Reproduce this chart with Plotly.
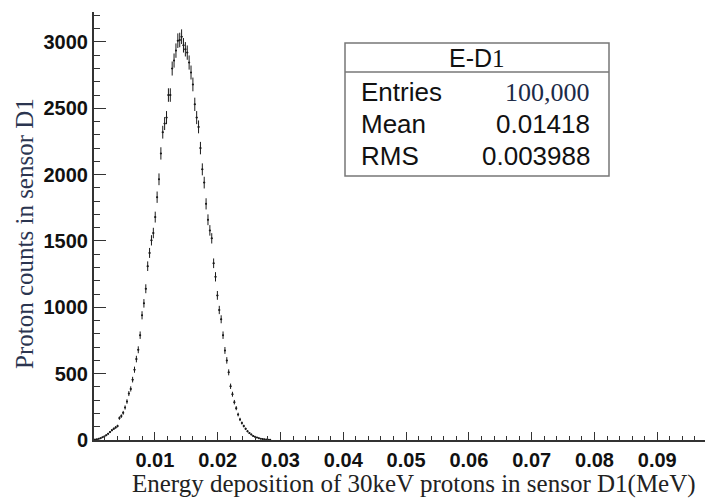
import numpy as np
import plotly.graph_objects as go

# ---- data ----
bin_width = 0.0003
hist_start = 0.0
counts = [2, 3, 5, 9, 14, 20, 27, 36, 47, 60,
          74, 85, 95, 105, 165, 180, 205, 245, 290, 350,
          385, 455, 530, 610, 680, 790, 940, 1030, 1140, 1310,
          1410, 1505, 1560, 1680, 1830, 1965, 2160, 2320, 2385, 2430,
          2600, 2600, 2800, 2860, 2935, 3010, 3015, 3040, 2975, 2945,
          2920, 2845, 2770, 2680, 2530, 2430, 2360, 2200, 2040, 1940,
          1780, 1660, 1580, 1520, 1332, 1230, 1090, 980, 910, 790,
          675, 600, 510, 405, 345, 285, 240, 192, 155, 128,
          105, 84, 66, 52, 42, 31, 24, 19, 14, 10,
          7, 5, 3, 2, 1]
x_ticks = [0.01, 0.02, 0.03, 0.04, 0.05, 0.06, 0.07, 0.08, 0.09]
x_tick_labels = ["0.01", "0.02", "0.03", "0.04", "0.05", "0.06", "0.07", "0.08", "0.09"]
y_ticks = [0, 500, 1000, 1500, 2000, 2500, 3000]
y_tick_labels = ["0", "500", "1000", "1500", "2000", "2500", "3000"]
stats_name = "E-D"
stats_name_suffix = "1"
stats_labels = ["Entries", "Mean", "RMS"]
stats_values = ["100,000", "0.01418", "0.003988"]
x_title = "Energy deposition of 30keV protons in sensor D1(MeV)"
y_title = "Proton counts in sensor D1"

edges = hist_start + bin_width * np.arange(len(counts) + 1)
centers = 0.5 * (edges[:-1] + edges[1:])
y = np.array(counts, dtype=float)
err = np.sqrt(y)

W, H = 705, 498
L, R, T, B = 94, 0, 12, 58
x_range = [0.0003, 0.0976]
y_range = [0, 3226]

def px(xp):
    return (xp - L) / (W - L - R)

def py(yp):
    return (H - B - yp) / (H - T - B)

fig = go.Figure()
fig.add_trace(go.Scatter(
    x=centers, y=y, mode="markers",
    marker=dict(size=2, color="#1a1a1a"),
    error_y=dict(type="data", array=err, width=0, thickness=1, color="#1a1a1a"),
    error_x=dict(type="constant", value=bin_width / 2, width=0, thickness=1, color="#1a1a1a"),
    showlegend=False, hoverinfo="x+y",
))

axis_col = "#333333"
tick_font = dict(family="Liberation Sans", size=20, color="#111111", weight="bold")
fig.update_layout(
    width=W, height=H,
    margin=dict(l=L, r=R, t=T, b=B, autoexpand=False),
    paper_bgcolor="white", plot_bgcolor="white",
    xaxis=dict(
        range=x_range, showgrid=False, zeroline=False, automargin=False,
        showline=True, linewidth=2, linecolor=axis_col,
        tickmode="array", tickvals=x_ticks, ticktext=x_tick_labels,
        ticks="inside", ticklen=8, tickwidth=1, tickcolor=axis_col,
        tickfont=tick_font, ticklabelstandoff=1,
        minor=dict(tickmode="linear", tick0=0, dtick=0.002, ticks="inside", ticklen=4,
                   tickwidth=1, tickcolor=axis_col, showgrid=False),
    ),
    yaxis=dict(
        range=y_range, showgrid=False, zeroline=False, automargin=False,
        showline=True, linewidth=2, linecolor=axis_col,
        tickmode="array", tickvals=y_ticks, ticktext=y_tick_labels,
        ticks="inside", ticklen=12, tickwidth=1, tickcolor=axis_col,
        tickfont=tick_font, ticklabelstandoff=0,
        minor=dict(tickmode="linear", tick0=0, dtick=100, ticks="inside", ticklen=6,
                   tickwidth=1, tickcolor=axis_col, showgrid=False),
    ),
)

# axis titles
fig.add_annotation(x=px(414), y=py(484), xref="paper", yref="paper",
                   xanchor="center", yanchor="middle",
                   text=x_title, showarrow=False,
                   font=dict(family="Liberation Serif", size=25, color="#222222"))
fig.add_annotation(x=px(24), y=py(234), xref="paper", yref="paper",
                   xanchor="center", yanchor="middle",
                   text=y_title, showarrow=False, textangle=-90,
                   font=dict(family="Liberation Serif", size=25, color="#2b3550"))

# stats box
bx0, bx1, by0, by1, bsep = 345, 609, 43, 176, 72
fig.add_shape(type="rect", xref="paper", yref="paper",
              x0=px(bx0), x1=px(bx1), y0=py(by1), y1=py(by0),
              line=dict(color="#777777", width=1.5), fillcolor="white")
fig.add_shape(type="line", xref="paper", yref="paper",
              x0=px(bx0), x1=px(bx1), y0=py(bsep), y1=py(bsep),
              line=dict(color="#777777", width=1.5))
fig.add_annotation(x=px((bx0 + bx1) / 2), y=py(58), xref="paper", yref="paper",
                   xanchor="center", yanchor="middle",
                   text=stats_name + "<span style='font-family:Liberation Serif'>" + stats_name_suffix + "</span>",
                   showarrow=False,
                   font=dict(family="Liberation Sans", size=25, color="#111111"))
row_y = [92, 124, 156]
for lab, val, ry in zip(stats_labels, stats_values, row_y):
    fig.add_annotation(x=px(359), y=py(ry), xref="paper", yref="paper", text=lab,
                       showarrow=False, xanchor="left", yanchor="middle",
                       font=dict(family="Liberation Sans", size=26, color="#111111"))
    serif = (lab == "Entries")
    fig.add_annotation(x=px(592), y=py(ry), xref="paper", yref="paper", text=val,
                       showarrow=False, xanchor="right", yanchor="middle",
                       font=dict(family="Liberation Serif" if serif else "Liberation Sans",
                                 size=26, color="#1c2a48" if serif else "#111111"))

fig.write_html("out.html",
               config={"displayModeBar": False},
               post_script="document.body.style.margin='0px';document.body.style.overflow='hidden';")
